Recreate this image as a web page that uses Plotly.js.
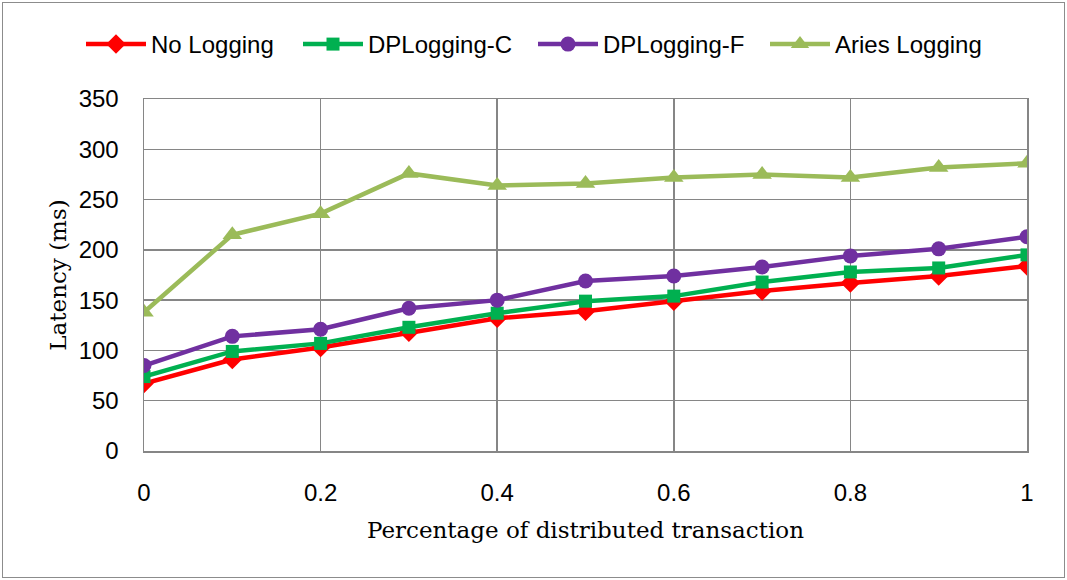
<!DOCTYPE html>
<html>
<head>
<meta charset="utf-8">
<script src="https://cdn.plot.ly/plotly-3.0.1.min.js"></script>
<style>
  html, body { margin: 0; padding: 0; background: #fff; }
  #wrap { position: relative; width: 1067px; height: 580px; }
  #frame { position: absolute; left: 2px; top: 2px; width: 1061px; height: 574px;
           border: 1px solid #8c8c8c; pointer-events: none; }
  #chart { position: absolute; left: 0; top: 0; width: 1067px; height: 580px; }
</style>
</head>
<body>
<div id="wrap">
  <div id="chart"></div>
  <div id="frame"></div>
</div>
<script>
// Fraction of distributed transactions
const xShare = [0, 0.1, 0.2, 0.3, 0.4, 0.5, 0.6, 0.7, 0.8, 0.9, 1];

// Latency in ms for each logging scheme
const noLogging    = [67, 91, 103, 118, 132, 139, 149, 159, 167, 174, 184];
const dpLoggingC   = [74, 99, 107, 123, 137, 149, 154, 168, 178, 182, 195];
const dpLoggingF   = [85, 114, 121, 142, 150, 169, 174, 183, 194, 201, 213];
const ariesLogging = [138, 215, 236, 276, 264, 266, 272, 275, 272, 282, 286];

const seriesNames = ['No Logging', 'DPLogging-C', 'DPLogging-F', 'Aries Logging'];
const xTicks = [0, 0.2, 0.4, 0.6, 0.8, 1];
const yTicks = [0, 50, 100, 150, 200, 250, 300, 350];

const tickFont = { family: '"Liberation Sans", Arial, sans-serif', size: 24, color: '#000' };
const titleFont = { family: '"DejaVu Serif", "Liberation Serif", serif', size: 23, color: '#000' };

// One legend box per series so each key sits at its own spot along the top row
const legendIds = ['legend', 'legend2', 'legend3', 'legend4'];
const legendLeft = [81, 298, 533, 765];

function line(i, y, color, symbol, size) {
  return {
    type: 'scatter', mode: 'lines+markers', name: seriesNames[i],
    legend: legendIds[i],
    x: xShare, y: y,
    line: { color: color, width: 4.5 },
    marker: { color: color, symbol: symbol, size: size }
  };
}

const traces = [
  line(0, noLogging, '#ff0000', 'diamond', 15),
  line(1, dpLoggingC, '#00b050', 'square', 13),
  line(2, dpLoggingF, '#7030a0', 'circle', 15),
  line(3, ariesLogging, '#9bbb59', 'triangle-up', 17)
];

const layout = {
  width: 1067, height: 580,
  margin: { l: 144, r: 40, t: 99, b: 129 },
  paper_bgcolor: '#fff', plot_bgcolor: '#fff',
  showlegend: true,
  xaxis: {
    range: [0, 1], tickvals: xTicks, ticktext: xTicks.map(String),
    showgrid: true, gridcolor: '#868686', gridwidth: 1.5,
    showline: true, linecolor: '#868686', linewidth: 1.5, mirror: true,
    zeroline: false, ticks: '', tickfont: tickFont, ticklabelstandoff: 20,
    title: { text: 'Percentage of distributed transaction', font: titleFont, standoff: 16 }
  },
  yaxis: {
    range: [0, 350], tickvals: yTicks,
    showgrid: true, gridcolor: '#868686', gridwidth: 1.5,
    showline: true, linecolor: '#868686', linewidth: 1.5, mirror: true,
    zeroline: false, ticks: '', tickfont: tickFont, ticklabelstandoff: 19,
    title: { text: 'Latency (ms)', font: titleFont, standoff: 5 }
  }
};

legendIds.forEach(function (id, i) {
  layout[id] = {
    orientation: 'h', x: legendLeft[i] / 1067, xanchor: 'left', xref: 'container',
    y: 1 - 22 / 580, yref: 'container', yanchor: 'top',
    font: tickFont, itemwidth: 60, bgcolor: 'rgba(0,0,0,0)'
  };
});

Plotly.newPlot('chart', traces, layout, { displayModeBar: false, staticPlot: true });
</script>
</body>
</html>
